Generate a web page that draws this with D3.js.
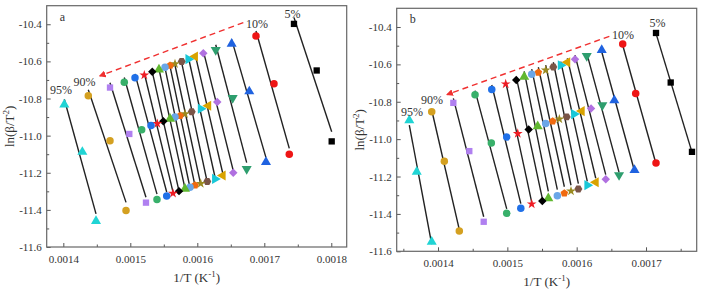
<!DOCTYPE html>
<html>
<head>
<meta charset="utf-8">
<script src="https://cdn.jsdelivr.net/npm/d3@7"></script>
<style>
  body { margin: 0; background: #fff; }
  text { font-family: "Liberation Serif", "Times New Roman", serif; }
</style>
</head>
<body>
<div id="chart"></div>
<script>
// conversion levels, from 5% to 95%
const conversions = ["5%","10%","15%","20%","25%","30%","35%","40%","45%","50%",
                     "55%","60%","65%","70%","75%","80%","85%","90%","95%"];

// marker shape and colour for each conversion level
const shapes = ["square","circle","triangle","triangleDown","diamond","triangleLeft","triangleRight","hexagon","star","pentagon",
                "sphere","triangle","diamond","star","circle","circle","square","circle","triangle"];
const colors = ["#000000","#ee1515","#1f62e0","#2e9e6e","#b070e0","#d9a300","#18c8d8","#7a5548","#9a8a20","#f06a10",
                "#6aa6e8","#60b830","#000000","#ee1c24","#2070e8","#38b06a","#b080f0","#d4a020","#20d4d4"];

// ---- panel a : 1/T (K^-1) and ln(beta/T^2) for the three heating rates ----
const a_invT_high = [0.0017443,0.0016876,0.0016513,0.0016275,0.0016090,0.0015966,0.0015866,0.0015767,0.0015667,0.0015593,
                     0.0015518,0.0015428,0.0015328,0.0015209,0.0015070,0.0014910,0.0014697,0.0014373,0.0014015];
const a_lnb_high  = [-10.398,-10.463,-10.506,-10.538,-10.556,-10.574,-10.588,-10.601,-10.613,-10.622,
                     -10.631,-10.644,-10.656,-10.674,-10.688,-10.712,-10.741,-10.785,-10.833];
const a_invT_mid  = [0.0017782,0.0017145,0.0016776,0.0016528,0.0016298,0.0016164,0.0016051,0.0015916,0.0015816,0.0015742,
                     0.0015667,0.0015593,0.0015493,0.0015403,0.0015309,0.0015170,0.0014985,0.0014697,0.0014284];
const a_lnb_mid   = [-10.649,-10.721,-10.762,-10.797,-10.819,-10.839,-10.855,-10.871,-10.883,-10.893,
                     -10.900,-10.910,-10.923,-10.935,-10.946,-10.968,-10.991,-11.027,-11.088];
const a_invT_low  = [0.0018006,0.0017373,0.0017025,0.0016737,0.0016537,0.0016379,0.0016264,0.0016149,0.0016051,0.0015966,
                     0.0015891,0.0015816,0.0015727,0.0015637,0.0015543,0.0015398,0.0015234,0.0014936,0.0014488];
const a_lnb_low   = [-11.031,-11.100,-11.143,-11.179,-11.200,-11.215,-11.233,-11.247,-11.258,-11.267,
                     -11.278,-11.286,-11.299,-11.311,-11.325,-11.344,-11.361,-11.403,-11.460];

// ---- panel b ----
const b_invT_high = [0.0017144,0.0016664,0.0016361,0.0016145,0.0015976,0.0015865,0.0015770,0.0015663,0.0015553,0.0015447,
                     0.0015351,0.0015243,0.0015128,0.0014976,0.0014775,0.0014534,0.0014221,0.0013909,0.0013586];
const b_lnb_high  = [-10.432,-10.491,-10.524,-10.555,-10.573,-10.589,-10.605,-10.614,-10.631,-10.644,
                     -10.653,-10.667,-10.683,-10.705,-10.734,-10.763,-10.806,-10.854,-10.899];
const b_invT_mid  = [0.0017356,0.0016851,0.0016543,0.0016370,0.0016207,0.0016073,0.0015962,0.0015856,0.0015750,0.0015654,
                     0.0015553,0.0015438,0.0015308,0.0015150,0.0014991,0.0014769,0.0014451,0.0014091,0.0013693];
const b_lnb_mid   = [-10.697,-10.756,-10.792,-10.818,-10.836,-10.850,-10.866,-10.881,-10.893,-10.904,
                     -10.916,-10.931,-10.948,-10.970,-10.989,-11.020,-11.064,-11.118,-11.175];
const b_invT_low  = [0.0017663,0.0017144,0.0016834,0.0016611,0.0016419,0.0016275,0.0016153,0.0016024,0.0015918,0.0015822,
                     0.0015721,0.0015591,0.0015504,0.0015351,0.0015194,0.0014991,0.0014659,0.0014307,0.0013909];
const b_lnb_low   = [-11.068,-11.127,-11.165,-11.192,-11.215,-11.231,-11.246,-11.267,-11.278,-11.290,
                     -11.303,-11.317,-11.331,-11.347,-11.370,-11.397,-11.442,-11.492,-11.549];

// tick values
const yTicks = [-11.6,-11.4,-11.2,-11.0,-10.8,-10.6,-10.4];
const yMinor = [-11.5,-11.3,-11.1,-10.9,-10.7,-10.5];
const a_xTicks = [0.0014,0.0015,0.0016,0.0017,0.0018];
const a_xMinor = [0.00145,0.00155,0.00165,0.00175];
const b_xTicks = [0.0014,0.0015,0.0016,0.0017];
const b_xMinor = [0.00135,0.00145,0.00155,0.00165,0.00175];

// text labels (placed in data units) and the dashed arrow
const a_notes = [{t:"95%", x:0.0013966, y:-10.774}, {t:"90%", x:0.0014316, y:-10.731},
                 {t:"10%", x:0.0016891, y:-10.420}, {t:"5%", x:0.0017421, y:-10.366}];
const b_notes = [{t:"95%", x:0.0013625, y:-10.874}, {t:"90%", x:0.0013913, y:-10.813},
                 {t:"10%", x:0.0016668, y:-10.463}, {t:"5%", x:0.0017166, y:-10.402}];
const a_arrow = {x1:0.0016687, y1:-10.391, x2:0.0014548, y2:-10.678};
const b_arrow = {x1:0.0016471, y1:-10.450, x2:0.0014134, y2:-10.761};

const W = 706, H = 291;
const svg = d3.select("#chart").append("svg")
    .attr("width", W).attr("height", H);

svg.append("defs").append("marker")
    .attr("id", "head")
    .attr("viewBox", "0 0 10 10")
    .attr("refX", 8).attr("refY", 5)
    .attr("markerWidth", 7).attr("markerHeight", 7)
    .attr("markerUnits", "userSpaceOnUse")
    .attr("orient", "auto")
  .append("path")
    .attr("d", "M0,0 L10,5 L0,10 Z")
    .attr("fill", "#f03030");

// simple regular polygon path
function poly(n, r, rot) {
  const pts = d3.range(n).map(i => {
    const a = rot + i * 2 * Math.PI / n;
    return [r * Math.sin(a), -r * Math.cos(a)];
  });
  return "M" + pts.map(p => p[0].toFixed(2) + "," + p[1].toFixed(2)).join("L") + "Z";
}

const symbolPath = {
  square: d3.symbol(d3.symbolSquare, 40)(),
  circle: d3.symbol(d3.symbolCircle, 44)(),
  sphere: d3.symbol(d3.symbolCircle, 44)(),
  triangle: d3.symbol(d3.symbolTriangle, 44)(),
  triangleDown: d3.symbol(d3.symbolTriangle, 44)(),
  triangleLeft: d3.symbol(d3.symbolTriangle, 44)(),
  triangleRight: d3.symbol(d3.symbolTriangle, 44)(),
  diamond: d3.symbol(d3.symbolSquare, 36)(),
  star: d3.symbol(d3.symbolStar, 30)(),
  hexagon: poly(6, 4, Math.PI / 6),
  pentagon: poly(5, 4, 0)
};
const symbolRot = {triangleDown: 180, triangleLeft: -90, triangleRight: 90, diamond: 45};

function linFit(xs, ys) {
  const mx = d3.mean(xs), my = d3.mean(ys);
  let sxy = 0, sxx = 0;
  xs.forEach((x, i) => { sxy += (x - mx) * (ys[i] - my); sxx += (x - mx) * (x - mx); });
  const k = sxy / sxx;
  return x => my + k * (x - mx);
}

function drawPanel(cfg) {
  const g = svg.append("g").attr("transform", `translate(${cfg.left},${cfg.top})`);
  const x = d3.scaleLinear().domain(cfg.xDomain).range([0, cfg.width]);
  const y = d3.scaleLinear().domain([-11.6, -10.3]).range([cfg.height, 0]);

  // one record per conversion level, three points each
  const series = conversions.map((c, i) => ({
    conv: c, shape: shapes[i], color: colors[i],
    pts: [[cfg.xh[i], cfg.yh[i]], [cfg.xm[i], cfg.ym[i]], [cfg.xl[i], cfg.yl[i]]]
  }));

  // fitted lines
  g.append("g").selectAll("line")
    .data(series)
    .join("line")
      .each(function (d) {
        const xs = d.pts.map(p => p[0]), ys = d.pts.map(p => p[1]);
        const f = linFit(xs, ys);
        const x0 = d3.min(xs), x1 = d3.max(xs);
        d3.select(this)
          .attr("x1", x(x0)).attr("y1", y(f(x0)))
          .attr("x2", x(x1)).attr("y2", y(f(x1)));
      })
      .attr("stroke", "#222")
      .attr("stroke-width", 1.4);

  // markers
  g.append("g").selectAll("g")
    .data(series)
    .join("g")
    .selectAll("path")
    .data(d => d.pts.map(p => ({p: p, shape: d.shape, color: d.color})))
    .join("path")
      .attr("d", d => symbolPath[d.shape])
      .attr("transform", d => `translate(${x(d.p[0])},${y(d.p[1])}) rotate(${symbolRot[d.shape] || 0})`)
      .attr("fill", d => d.color);

  // dashed arrow
  g.append("line")
    .attr("x1", x(cfg.arrow.x1)).attr("y1", y(cfg.arrow.y1))
    .attr("x2", x(cfg.arrow.x2)).attr("y2", y(cfg.arrow.y2))
    .attr("stroke", "#f03030")
    .attr("stroke-width", 1.4)
    .attr("stroke-dasharray", "6,4")
    .attr("marker-end", "url(#head)");

  // percentage labels
  g.append("g").selectAll("text")
    .data(cfg.notes)
    .join("text")
      .attr("x", d => x(d.x)).attr("y", d => y(d.y))
      .attr("text-anchor", "middle")
      .style("font-size", "12px")
      .style("fill", "#333")
      .text(d => d.t);

  // axes (ticks point inward)
  const fmtY = d => d.toFixed(1);
  const fmtX = d => d.toFixed(4);
  g.append("g")
    .call(d3.axisLeft(y).tickValues(yTicks).tickSizeInner(-4).tickSizeOuter(0).tickPadding(5).tickFormat(fmtY));
  g.append("g")
    .call(d3.axisLeft(y).tickValues(yMinor).tickSizeInner(-2.5).tickSizeOuter(0).tickFormat(""));
  g.append("g")
    .attr("transform", `translate(0,${cfg.height})`)
    .call(d3.axisBottom(x).tickValues(cfg.xTicks).tickSizeInner(-4).tickSizeOuter(0).tickPadding(8).tickFormat(fmtX));
  g.append("g")
    .attr("transform", `translate(0,${cfg.height})`)
    .call(d3.axisBottom(x).tickValues(cfg.xMinor).tickSizeInner(-2.5).tickSizeOuter(0).tickFormat(""));
  g.selectAll(".domain").remove();
  g.selectAll(".tick line").attr("stroke", "#555");
  g.selectAll(".tick text")
    .style("font-family", "Liberation Serif, serif")
    .style("font-size", "11px")
    .style("fill", "#333");

  // frame
  g.append("rect")
    .attr("width", cfg.width).attr("height", cfg.height)
    .attr("fill", "none")
    .attr("stroke", "#666")
    .attr("stroke-width", 1.2);

  // panel letter
  g.append("text")
    .attr("x", 13).attr("y", 15)
    .style("font-size", "12px")
    .style("fill", "#333")
    .text(cfg.letter);

  // y axis title
  const yt = g.append("text")
    .attr("transform", `translate(-33,${cfg.height / 2}) rotate(-90)`)
    .attr("text-anchor", "middle")
    .style("font-size", "13px")
    .style("fill", "#333");
  yt.append("tspan").text("ln(β/T");
  yt.append("tspan").attr("dy", -5).style("font-size", "9px").text("2");
  yt.append("tspan").attr("dy", 5).text(")");

  // x axis title
  const xt = g.append("text")
    .attr("x", cfg.width / 2).attr("y", cfg.height + 35)
    .attr("text-anchor", "middle")
    .style("font-size", "13px")
    .style("fill", "#333");
  xt.append("tspan").text("1/T (K");
  xt.append("tspan").attr("dy", -5).style("font-size", "9px").text("-1");
  xt.append("tspan").attr("dy", 5).text(")");
}

drawPanel({
  letter: "a", left: 46.7, top: 5.7, width: 300, height: 241.3,
  xDomain: [0.0013752, 0.0018230],
  xh: a_invT_high, yh: a_lnb_high, xm: a_invT_mid, ym: a_lnb_mid, xl: a_invT_low, yl: a_lnb_low,
  xTicks: a_xTicks, xMinor: a_xMinor, notes: a_notes, arrow: a_arrow
});

drawPanel({
  letter: "b", left: 396.7, top: 8.3, width: 300, height: 243,
  xDomain: [0.0013404, 0.0017731],
  xh: b_invT_high, yh: b_lnb_high, xm: b_invT_mid, ym: b_lnb_mid, xl: b_invT_low, yl: b_lnb_low,
  xTicks: b_xTicks, xMinor: b_xMinor, notes: b_notes, arrow: b_arrow
});
</script>
</body>
</html>
